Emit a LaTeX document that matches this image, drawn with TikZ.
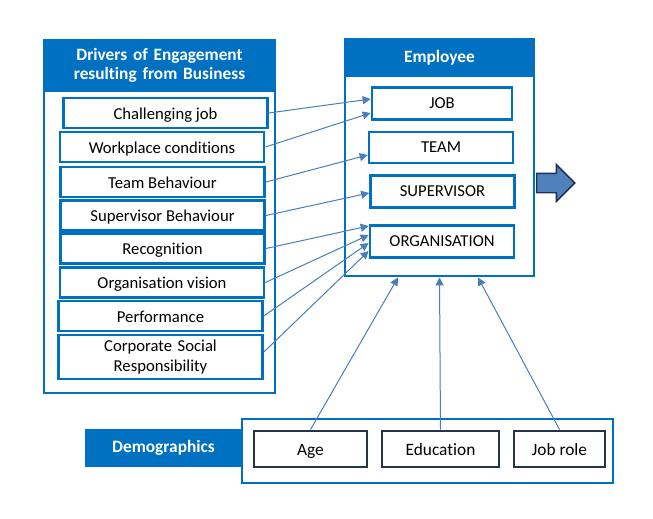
\documentclass[tikz,border=0pt]{standalone}
\usepackage{fontspec}
\setmainfont{Carlito}[Ligatures=NoCommon]
\usepackage{xcolor}
\usepackage{tikz}
\usetikzlibrary{shapes, arrows.meta, calc}
\definecolor{engblue}{RGB}{0,112,192}
\definecolor{linkblue}{RGB}{74,126,187}
\definecolor{slate}{RGB}{36,52,78}
\definecolor{arrowfill}{RGB}{79,129,189}
\definecolor{arrowedge}{RGB}{31,50,84}
\tikzstyle{panel} = [rectangle, draw=engblue, line width=2.2pt, fill=white, inner sep=0pt]
\tikzstyle{heading} = [rectangle, fill=engblue, text=white, inner sep=0pt, font=\fontsize{13}{14.25}\selectfont\bfseries]
\tikzstyle{driver} = [rectangle, draw=engblue, line width=2pt, minimum width=153pt, minimum height=22.5pt, inner sep=0pt, font=\fontsize{12.5}{15}\selectfont]
\tikzstyle{sunk} = [text height=10pt, text depth=1pt]
\tikzstyle{facet} = [rectangle, draw=engblue, line width=2pt, minimum width=108pt, minimum height=24pt, inner sep=0pt, font=\fontsize{12.5}{15}\selectfont]
\tikzstyle{demo} = [rectangle, draw=slate, line width=2.2pt, minimum height=27pt, inner sep=0pt, text height=9.5pt, text depth=0.5pt, font=\fontsize{13}{15}\selectfont]
\tikzstyle{link} = [draw=linkblue, line width=0.75pt, -{Triangle[length=6pt, width=6pt]}]

\begin{document}
\begin{tikzpicture}[x=0.75pt, y=-0.75pt]
    \useasboundingbox (0,0) rectangle (653,518);

    \node (driversbody) [panel, minimum width=173.25pt, minimum height=264.75pt] at (159.5,216.5) {};
    \node (drivershead) [heading, minimum width=175.45pt, minimum height=40.1pt, text width=172pt, align=center] at (159.5,65.25) {Drivers of Engagement\\resulting from Business};

    \node (challenging) [driver, sunk] at (165.5,113) {Challenging job};
    \node (workplace) [driver, sunk] at (162,147) {Workplace conditions};
    \node (teambeh) [driver, sunk] at (162.5,182) {Team Behaviour};
    \node (supbeh) [driver, sunk] at (162.5,215.5) {Supervisor Behaviour};
    \node (recognition) [driver, sunk] at (162.5,248.5) {Recognition};
    \node (orgvision) [driver, sunk] at (162,282.5) {Organisation vision};
    \node (performance) [driver, sunk] at (160.5,316) {Performance};
    \node (csr) [driver, minimum height=33pt, text width=150pt, align=center] at (160.5,357) {Corporate Social\\Responsibility};

    \node (employeebody) [panel, minimum width=141.75pt, minimum height=177pt] at (439.5,158) {};
    \node (employeehead) [heading, minimum width=143.95pt, minimum height=28.9pt] at (439.5,57.75) {Employee};

    \node (job) [facet, minimum width=105pt] at (442,103.5) {JOB};
    \node (team) [facet, minimum height=23.25pt] at (441,147.5) {TEAM};
    \node (supervisor) [facet] at (442.5,191.5) {SUPERVISOR};
    \node (organisation) [facet] at (442,241.5) {ORGANISATION};

    \node (outcome) [single arrow, draw=arrowedge, fill=arrowfill, line width=1.1pt, minimum height=28.5pt, inner xsep=0pt, inner ysep=6.75pt, single arrow head extend=6.4pt, anchor=west] at (536,183) {};

    \node (demobody) [panel, minimum width=278.25pt, minimum height=48pt] at (427.5,451) {};
    \node (demohead) [heading, minimum width=117.75pt, minimum height=28.5pt] at (163.5,448) {Demographics};

    \node (age) [demo, minimum width=84.75pt] at (310.5,449) {Age};
    \node (education) [demo, minimum width=87.75pt] at (440.5,449) {Education};
    \node (jobrole) [demo, minimum width=68.25pt] at (559.5,449) {Job role};

    \draw [link] (challenging.east) -- ($(job.west)+(0,-4.5)$);
    \draw [link] (workplace.east) -- ($(job.west)+(0,9.5)$);
    \draw [link] (teambeh.east) -- ($(team.west)+(0,7.5)$);
    \draw [link] (supbeh.east) -- ($(supervisor.west)+(0,1.5)$);
    \draw [link] (recognition.east) -- ($(organisation.west)+(0,-15.5)$);
    \draw [link] (orgvision.east) -- ($(organisation.west)+(0,-6.5)$);
    \draw [link] (performance.east) -- ($(organisation.west)+(0,1.5)$);
    \draw [link] ($(csr.east)+(0,-5)$) -- ($(organisation.west)+(0,9.5)$);

    \draw [link] (age.north) -- ($(employeebody.south)+(-41.5,0)$);
    \draw [link] (education.north) -- (employeebody.south);
    \draw [link] (jobrole.north) -- ($(employeebody.south)+(38.5,0)$);
\end{tikzpicture}
\end{document}
